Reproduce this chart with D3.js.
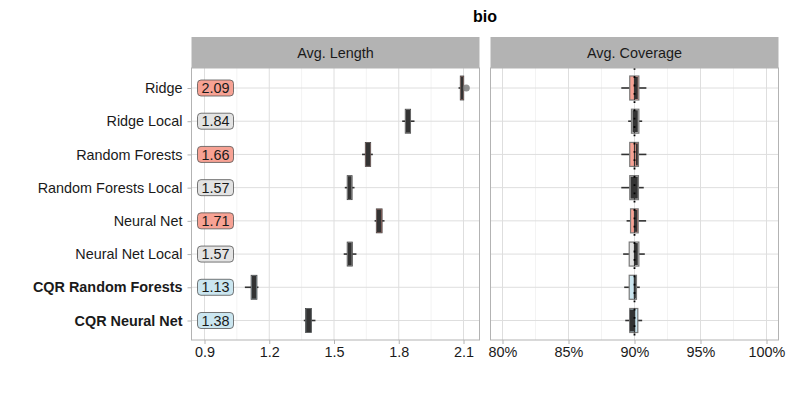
<!DOCTYPE html>
<html>
<head>
<meta charset="utf-8">
<script src="https://cdnjs.cloudflare.com/ajax/libs/d3/7.8.5/d3.min.js"></script>
<style>
  body { margin: 0; background: #fff; }
  svg text { font-family: "Liberation Sans", Arial, sans-serif; }
</style>
</head>
<body>
<div id="chart"></div>
<script>
// methods, top to bottom
methods = ["Ridge", "Ridge Local", "Random Forests", "Random Forests Local",
           "Neural Net", "Neural Net Local", "CQR Random Forests", "CQR Neural Net"]
boldMethods = ["CQR Random Forests", "CQR Neural Net"]
groups = ["base", "local", "base", "local", "base", "local", "cqr", "cqr"]
groupColors = {base: "#F7A294", local: "#E3E3E3", cqr: "#CBE6F0"}

// avg length boxplots
lenLo  = [2.077, 1.816, 1.630, 1.550, 1.688, 1.545, 1.087, 1.360]
lenQ1  = [2.085, 1.830, 1.645, 1.561, 1.696, 1.561, 1.116, 1.368]
lenMed = [2.090, 1.840, 1.660, 1.570, 1.710, 1.570, 1.130, 1.380]
lenQ3  = [2.095, 1.855, 1.670, 1.584, 1.723, 1.585, 1.143, 1.396]
lenHi  = [2.097, 1.873, 1.680, 1.595, 1.734, 1.604, 1.150, 1.414]
lenOutliers = [[2.113], [], [], [], [], [], [], []]
lenLabels = ["2.09", "1.84", "1.66", "1.57", "1.71", "1.57", "1.13", "1.38"]
lenTicks = [0.9, 1.2, 1.5, 1.8, 2.1]

// avg coverage boxplots (percent)
covLo  = [89.0, 89.52, 89.0, 89.0, 89.4, 89.14, 89.22, 89.3]
covQ1  = [89.64, 89.77, 89.64, 89.64, 89.7, 89.6, 89.6, 89.64]
covMed = [90.0, 90.0, 90.0, 90.0, 90.0, 90.0, 90.0, 90.0]
covQ3  = [90.33, 90.33, 90.3, 90.3, 90.28, 90.33, 90.15, 90.25]
covHi  = [90.9, 90.58, 90.9, 90.7, 90.88, 90.78, 90.4, 90.58]
// dense run points drawn dark over the box
covPtLo = [90.0, 89.85, 90.1, 89.7, 90.0, 90.0, 89.95, 89.64]
covPtHi = [90.25, 90.25, 90.25, 90.25, 90.22, 90.25, 90.1, 90.05]
covTicks = [80, 85, 90, 95, 100]
targetCoverage = 90

const width = 789, height = 395
const fontSize = 14.4
const svg = d3.select("#chart").append("svg")
    .attr("width", width).attr("height", height)

const panelTop = 68, panelBottom = 340, stripTop = 37
const panels = [
    {x0: 191.5, x1: 479.5, title: "Avg. Length"},
    {x0: 490.5, x1: 778.5, title: "Avg. Coverage"}
]

const y = d3.scalePoint().domain(methods).range([88, 320.5])
const xLen = d3.scaleLinear().domain([0.9, 2.1]).range([204.5, 463.5])
const xCov = d3.scaleLinear().domain([80, 100]).range([502.5, 766.5])

svg.append("text")
    .attr("x", (panels[0].x0 + panels[1].x1) / 2).attr("y", 22)
    .attr("text-anchor", "middle").attr("font-size", 16).attr("font-weight", "bold")
    .attr("fill", "#000").text("bio")

function drawPanel(p, x, ticks, fmt) {
    const g = svg.append("g")
    g.append("rect").attr("x", p.x0).attr("y", panelTop).attr("width", p.x1 - p.x0)
        .attr("height", panelBottom - panelTop).attr("fill", "#fff")
    // minor grid
    const minor = d3.pairs(ticks).map(d => (d[0] + d[1]) / 2)
    const step = ticks[1] - ticks[0]
    minor.unshift(ticks[0] - step / 2)
    minor.push(ticks[ticks.length - 1] + step / 2)
    g.selectAll(".minor").data(minor.filter(v => x(v) > p.x0 && x(v) < p.x1)).join("line")
        .attr("x1", d => x(d)).attr("x2", d => x(d)).attr("y1", panelTop).attr("y2", panelBottom)
        .attr("stroke", "#EBEBEB").attr("stroke-width", 0.6)
    g.selectAll(".major").data(ticks).join("line")
        .attr("x1", d => x(d)).attr("x2", d => x(d)).attr("y1", panelTop).attr("y2", panelBottom)
        .attr("stroke", "#DEDEDE").attr("stroke-width", 1)
    g.selectAll(".hmajor").data(methods).join("line")
        .attr("x1", p.x0).attr("x2", p.x1).attr("y1", d => y(d)).attr("y2", d => y(d))
        .attr("stroke", "#DEDEDE").attr("stroke-width", 1)
    // x axis
    const ax = svg.append("g").attr("transform", `translate(0,${panelBottom})`)
        .call(d3.axisBottom(x).tickValues(ticks).tickFormat(fmt).tickSize(4).tickPadding(3))
    ax.select(".domain").remove()
    ax.selectAll(".tick line").attr("stroke", "#B3B3B3")
    ax.selectAll(".tick text").attr("font-size", fontSize).attr("fill", "#1a1a1a")
    // strip
    svg.append("rect").attr("x", p.x0).attr("y", stripTop).attr("width", p.x1 - p.x0)
        .attr("height", panelTop - stripTop).attr("fill", "#B3B3B3")
    svg.append("text").attr("x", (p.x0 + p.x1) / 2).attr("y", (stripTop + panelTop) / 2 + 5)
        .attr("text-anchor", "middle").attr("font-size", fontSize).attr("fill", "#1a1a1a").text(p.title)
    return g
}

const gL = drawPanel(panels[0], xLen, lenTicks, d3.format(".1f"))
const gR = drawPanel(panels[1], xCov, covTicks, d => d + "%")

// y axis
const ay = svg.append("g").attr("transform", `translate(${panels[0].x0},0)`)
    .call(d3.axisLeft(y).tickSize(4).tickPadding(5))
ay.select(".domain").remove()
ay.selectAll(".tick line").attr("stroke", "#B3B3B3")
ay.selectAll(".tick text").attr("font-size", fontSize).attr("fill", "#1a1a1a")
    .attr("font-weight", d => boldMethods.includes(d) ? "bold" : "normal")

const boxH = 12

// length panel
methods.forEach((m, i) => {
    const cy = y(m)
    gL.append("line").attr("x1", xLen(lenLo[i])).attr("x2", xLen(lenHi[i]))
        .attr("y1", cy).attr("y2", cy).attr("stroke", "#333").attr("stroke-width", 1.6)
    const bx = xLen(lenQ1[i]), bw = Math.max(3.5, xLen(lenQ3[i]) - xLen(lenQ1[i]))
    gL.append("rect").attr("x", bx).attr("y", cy - boxH)
        .attr("width", bw).attr("height", boxH * 2)
        .attr("fill", groupColors[groups[i]]).attr("stroke", "#444").attr("stroke-width", 0.8)
    gL.append("rect").attr("x", bx + 0.6).attr("y", cy - boxH + 0.5)
        .attr("width", bw - 1.2).attr("height", boxH * 2 - 1)
        .attr("fill", "#333")
    gL.selectAll(null).data(lenOutliers[i]).join("circle")
        .attr("cx", d => xLen(d)).attr("cy", cy).attr("r", 3.5)
        .attr("fill", "#777").attr("fill-opacity", 0.8)
    // value label
    const lx = xLen(0.9) + 11
    gL.append("rect").attr("x", lx - 18).attr("y", cy - 8).attr("width", 36).attr("height", 16)
        .attr("rx", 3.5).attr("fill", groupColors[groups[i]]).attr("stroke", "#555").attr("stroke-width", 0.8)
    gL.append("text").attr("x", lx).attr("y", cy + 5.2).attr("text-anchor", "middle")
        .attr("font-size", fontSize).attr("fill", "#1a1a1a").text(lenLabels[i])
})

// coverage panel
methods.forEach((m, i) => {
    const cy = y(m)
    gR.append("line").attr("x1", xCov(covLo[i])).attr("x2", xCov(covHi[i]))
        .attr("y1", cy).attr("y2", cy).attr("stroke", "#333").attr("stroke-width", 1.6)
    gR.append("rect").attr("x", xCov(covQ1[i])).attr("y", cy - boxH)
        .attr("width", xCov(covQ3[i]) - xCov(covQ1[i])).attr("height", boxH * 2)
        .attr("fill", groupColors[groups[i]]).attr("stroke", "#7a7a7a").attr("stroke-width", 1.2)
    gR.append("rect").attr("x", xCov(covPtLo[i])).attr("y", cy - boxH + 1)
        .attr("width", xCov(covPtHi[i]) - xCov(covPtLo[i])).attr("height", boxH * 2 - 2)
        .attr("fill", "#333")
    gR.append("line").attr("x1", xCov(covMed[i])).attr("x2", xCov(covMed[i]))
        .attr("y1", cy - boxH).attr("y2", cy + boxH).attr("stroke", "#333").attr("stroke-width", 1.2)
})
gR.append("line").attr("x1", xCov(targetCoverage)).attr("x2", xCov(targetCoverage))
    .attr("y1", panelTop).attr("y2", panelBottom)
    .attr("stroke", "#000").attr("stroke-width", 1.8).attr("stroke-dasharray", "1.8,6.5")

// panel borders
panels.forEach(p => {
    svg.append("rect").attr("x", p.x0).attr("y", panelTop).attr("width", p.x1 - p.x0)
        .attr("height", panelBottom - panelTop).attr("fill", "none").attr("stroke", "#B3B3B3").attr("stroke-width", 1)
})
</script>
</body>
</html>
